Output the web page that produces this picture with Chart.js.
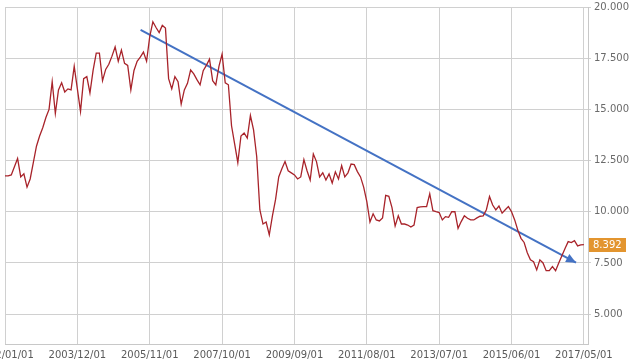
<!DOCTYPE html>
<html>
<head>
<meta charset="utf-8">
<script src="https://cdn.jsdelivr.net/npm/chart.js@4"></script>
<style>
    body { margin: 0; background: #fff; }
    #wrap { position: relative; width: 630px; height: 361px; }
</style>
</head>
<body>
<div id="wrap"><canvas id="priceChart"></canvas></div>
<script>
// Valores mensais, 2002/01 .. 2017/05 (um por mês)
const monthlyValues = [
    11.75, 11.75, 11.8, 12.2, 12.6, 11.7, 11.85, 11.2, 11.6, 12.4, 13.2, 13.7,
    14.1, 14.6, 15.0, 16.35, 14.8, 15.95, 16.3, 15.85, 16.0, 15.95, 17.1, 16.0,
    14.9, 16.5, 16.6, 15.8, 16.9, 17.75, 17.75, 16.4, 16.95, 17.2, 17.6, 18.05,
    17.35, 17.9, 17.25, 17.15, 15.95, 16.9, 17.35, 17.55, 17.8, 17.35, 18.55, 19.28,
    19.0, 18.75, 19.1, 18.97, 16.5, 16.0, 16.6, 16.35, 15.26, 15.95, 16.27, 16.92,
    16.73, 16.45, 16.2, 16.89, 17.15, 17.45, 16.4, 16.2, 17.1, 17.7, 16.3, 16.2,
    14.2, 13.3, 12.4, 13.7, 13.85, 13.6, 14.7, 14.0, 12.7, 10.1, 9.4, 9.5,
    8.87, 9.8, 10.6, 11.7, 12.1, 12.45, 12.0, 11.9, 11.8, 11.6, 11.7, 12.55,
    12.0, 11.55, 12.82, 12.45, 11.7, 11.9, 11.55, 11.85, 11.4, 11.95, 11.6, 12.25,
    11.7, 11.9, 12.33, 12.3, 11.96, 11.7, 11.2, 10.5, 9.5, 9.9, 9.6, 9.55,
    9.7, 10.8, 10.75, 10.2, 9.3, 9.8, 9.4, 9.4, 9.35, 9.25, 9.35, 10.2,
    10.24, 10.25, 10.25, 10.87, 10.05, 10.0, 9.96, 9.6, 9.76, 9.73, 10.0, 10.0,
    9.19, 9.52, 9.8, 9.68, 9.6, 9.6, 9.7, 9.78, 9.8, 10.1, 10.74, 10.33,
    10.09, 10.28, 9.93, 10.1, 10.25, 10.0, 9.6, 9.1, 8.7, 8.5, 8.0, 7.65,
    7.56, 7.16, 7.65, 7.5, 7.12, 7.12, 7.32, 7.12, 7.5, 7.85, 8.2, 8.54,
    8.49, 8.59, 8.33, 8.38, 8.392
];

// Linha de tendência (seta azul), em índice de mês / valor
const trendMonths = [43.1, 181.5];
const trendValues = [18.88, 7.51];

// Eixos
const xTickMonths = [0, 23, 46, 69, 92, 115, 138, 161, 184];
const xTickLabels = ['2002/01/01', '2003/12/01', '2005/11/01', '2007/10/01', '2009/09/01',
    '2011/08/01', '2013/07/01', '2015/06/01', '2017/05/01'];
const yTicks = [5, 7.5, 10, 12.5, 15, 17.5, 20];

const lastLabel = '8.392';

Chart.defaults.font.family = '"DejaVu Sans", Verdana, sans-serif';
Chart.defaults.font.size = 10;

// Desenha a ponta da seta e a etiqueta do último valor
const extrasPlugin = {
    id: 'extras',
    afterDatasetsDraw(chart) {
        const { ctx, scales: { x, y }, chartArea } = chart;

        // ponta da seta
        const x0 = x.getPixelForValue(trendMonths[0]), y0 = y.getPixelForValue(trendValues[0]);
        const x1 = x.getPixelForValue(trendMonths[1]), y1 = y.getPixelForValue(trendValues[1]);
        const ang = Math.atan2(y1 - y0, x1 - x0);
        const len = 10, half = 4.5;
        ctx.save();
        ctx.fillStyle = '#4472c4';
        ctx.beginPath();
        ctx.moveTo(x1, y1);
        ctx.lineTo(x1 - len * Math.cos(ang) + half * Math.sin(ang), y1 - len * Math.sin(ang) - half * Math.cos(ang));
        ctx.lineTo(x1 - len * Math.cos(ang) - half * Math.sin(ang), y1 - len * Math.sin(ang) + half * Math.cos(ang));
        ctx.closePath();
        ctx.fill();

        // etiqueta do último valor
        const lastY = y.getPixelForValue(monthlyValues[monthlyValues.length - 1]);
        ctx.fillStyle = '#e3952f';
        ctx.fillRect(chartArea.right + 1, Math.round(lastY) - 7, 37, 14);
        ctx.fillStyle = '#fff';
        ctx.font = '10px "DejaVu Sans", Verdana, sans-serif';
        ctx.textBaseline = 'middle';
        ctx.textAlign = 'left';
        ctx.fillText(lastLabel, chartArea.right + 5, Math.round(lastY));
        ctx.restore();
    }
};

const ctx = document.getElementById('priceChart').getContext('2d');
new Chart(ctx, {
    type: 'line',
    data: {
        datasets: [{
            label: 'Valor',
            data: monthlyValues.map((v, i) => ({ x: i, y: v })),
            borderColor: '#a8232a',
            borderWidth: 1.3,
            pointRadius: 0,
            tension: 0,
            fill: false
        }, {
            label: 'Tendência',
            data: trendMonths.map((m, i) => {
                // encurta a linha para acabar na base da seta
                return { x: m, y: trendValues[i] };
            }),
            borderColor: '#4472c4',
            borderWidth: 2,
            pointRadius: 0,
            fill: false
        }]
    },
    options: {
        responsive: true,
        maintainAspectRatio: false,
        animation: false,
        events: [],
        layout: { padding: { left: 5, top: 7, right: 0, bottom: 0 } },
        plugins: {
            legend: { display: false },
            tooltip: { enabled: false }
        },
        scales: {
            x: {
                type: 'linear',
                min: 0,
                max: 185.3,
                afterBuildTicks: (scale) => {
                    scale.ticks = xTickMonths.map(v => ({ value: v }));
                },
                afterFit: (scale) => {
                    scale.paddingLeft = 0;
                    scale.paddingRight = 0;
                    scale.height = 17;
                },
                ticks: {
                    autoSkip: false,
                    maxRotation: 0,
                    minRotation: 0,
                    padding: 5,
                    color: '#5a5a5a',
                    callback: (v, i) => xTickLabels[i]
                },
                grid: { color: '#d0d0d0', drawTicks: false },
                border: { color: '#c8c8c8' }
            },
            y: {
                position: 'right',
                min: 3.54,
                max: 20,
                afterBuildTicks: (scale) => {
                    scale.ticks = yTicks.map(v => ({ value: v }));
                },
                afterFit: (scale) => {
                    scale.paddingTop = 0;
                    scale.paddingBottom = 0;
                    scale.width = 42;
                },
                ticks: {
                    padding: 3,
                    color: '#6a6a6a',
                    callback: (v) => Number(v).toFixed(3)
                },
                grid: { color: '#d0d0d0', tickLength: 3 },
                border: { color: '#c8c8c8' }
            }
        }
    },
    plugins: [extrasPlugin]
});
</script>
</body>
</html>
